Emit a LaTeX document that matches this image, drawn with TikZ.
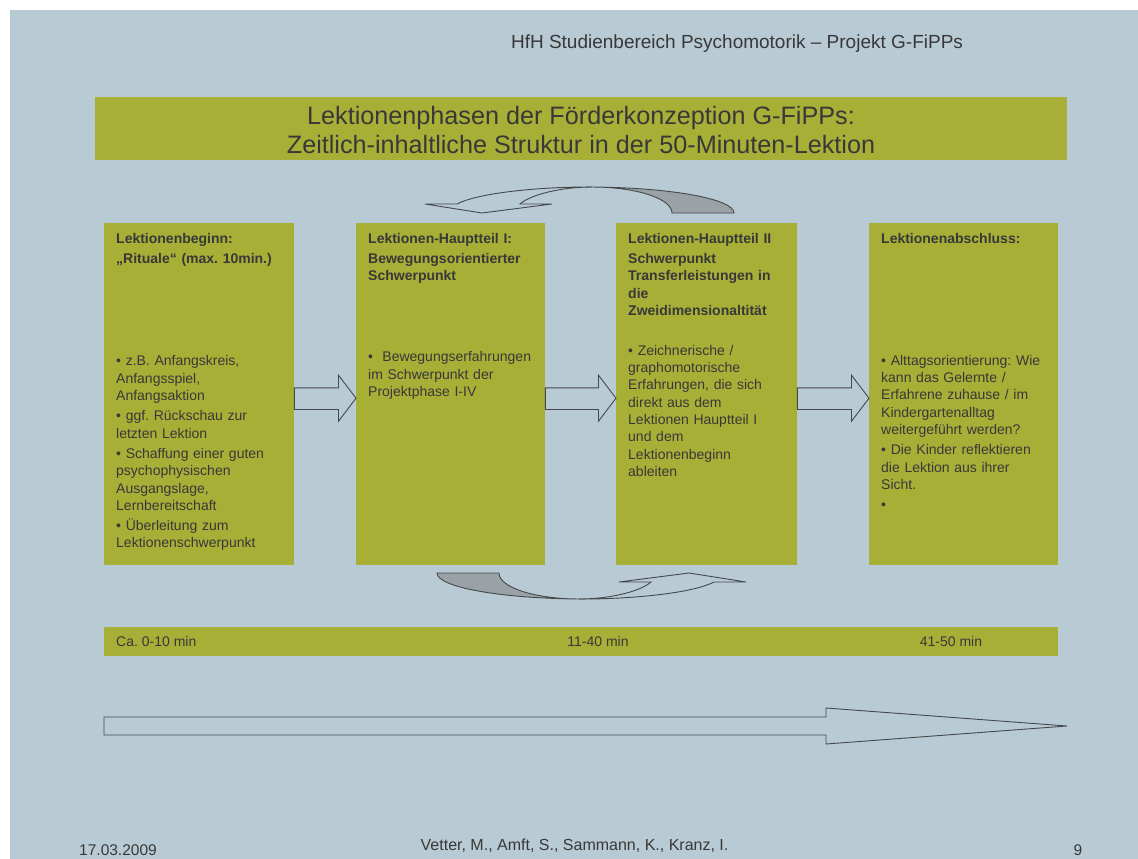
\documentclass[tikz,border=0pt]{standalone}
\usepackage{fontspec}
\setmainfont{Liberation Sans}
\usetikzlibrary{calc}
\frenchspacing
\definecolor{bg}{HTML}{B8CAD3}
\definecolor{grn}{HTML}{A8AF37}
\definecolor{txt}{HTML}{383838}
\definecolor{ol}{HTML}{45494C}
\definecolor{shade}{HTML}{9AA2A7}
\newcommand\blockarrow[2]{%
  \draw[outl, fill=bg] let \p1=(#1.east), \p2=(#2.west) in
   (\x1,\y1+6.3pt) -- (\x2-17.5pt,\y1+6.3pt) -- (\x2-17.5pt,\y1+19pt) -- (\x2,\y1-4pt)
   -- (\x2-17.5pt,\y1-27pt) -- (\x2-17.5pt,\y1-15.3pt) -- (\x1,\y1-15.3pt) -- cycle;}
\newcommand\curvedband{%
  \filldraw[outl, fill=shade] (672,213) -- (734,213) .. controls (734,198.6) and (667.7,187) .. (586,187)
     -- (592,187) .. controls (636.2,187) and (672,198.6) .. (672,213) -- cycle;
  \draw[outl] (586,187) .. controls (545,187) and (480,192) .. (457,204) -- (425,204) -- (482,213)
     -- (552,204) -- (520,204) .. controls (530,195) and (560,187) .. (592,187);}
\begin{document}
\begin{tikzpicture}[x=1pt,y=-1pt,
  panel/.style={fill=grn, draw=none, inner sep=0pt, anchor=north west},
  hd/.style={anchor=north west, inner sep=0pt, align=left, text=txt, text width=185pt,
     font=\fontsize{14}{17.3}\selectfont\bfseries},
  bd/.style={anchor=north west, inner sep=0pt, align=left, text=txt, text width=185pt,
     font=\fontsize{14}{17.3}\selectfont},
  outl/.style={draw=ol, line width=0.9pt, line join=miter},
  small/.style={inner sep=0pt, text=txt, font=\fontsize{14}{17}\selectfont},
  ]
\useasboundingbox (0,0) rectangle (1138,859);
\fill[white] (0,0) rectangle (1138,859);
\fill[bg] (10,10) rectangle (1138,859);

% header and title
\node[inner sep=0pt, anchor=base, text=txt, font=\fontsize{19}{22}\selectfont] (head) at (737,48.8)
  {HfH Studienbereich Psychomotorik – Projekt G-FiPPs};
\node[panel, minimum width=972pt, minimum height=63pt] (titlebox) at (95,97) {};
\node[inner sep=0pt, anchor=north, align=center, text=txt, font=\fontsize{25.2}{29}\selectfont] (title)
  at (581,103.7) {\strut Lektionenphasen der Förderkonzeption G-FiPPs:\\ Zeitlich-inhaltliche Struktur in der 50-Minuten-Lektion};

% panels
\node[panel, minimum width=190pt, minimum height=342pt] (b1) at (104,223) {};
\node[panel, minimum width=189pt, minimum height=342pt] (b2) at (356,223) {};
\node[panel, minimum width=181pt, minimum height=342pt] (b3) at (616,223) {};
\node[panel, minimum width=189pt, minimum height=342pt] (b4) at (869,223) {};

\node[hd] (h1) at (116,231.4) {\strut Lektionenbeginn:\\[2.5pt] „Rituale“ (max. 10min.)};
\node[hd] (h2) at (368,231.4) {\strut Lektionen-Hauptteil I:\\[2.5pt] Bewegungsorientierter\\ Schwerpunkt};
\node[hd] (h3) at (628,231.4) {\strut Lektionen-Hauptteil II\\[2.5pt] Schwerpunkt\\ Transferleistungen in\\ die\\ Zweidimensionaltität};
\node[hd] (h4) at (881,231.4) {\strut Lektionenabschluss:};

\node[bd] (t1) at (116,353.6) {\strut • z.B. Anfangskreis,\\ Anfangsspiel,\\ Anfangsaktion\\[3pt]
  • ggf. Rückschau zur\\ letzten Lektion\\[3pt]
  • Schaffung einer guten\\ psychophysischen\\ Ausgangslage,\\ Lernbereitschaft\\[3pt]
  • Überleitung zum\\ Lektionenschwerpunkt};
\node[bd] (t2) at (368,349.6) {\strut •\ \ Bewegungserfahrungen\\ im Schwerpunkt der\\ Projektphase I-IV};
\node[bd] (t3) at (628,342.9) {\strut • Zeichnerische /\\ graphomotorische\\ Erfahrungen, die sich\\ direkt aus dem\\ Lektionen Hauptteil I\\ und dem\\ Lektionenbeginn\\ ableiten};
\node[bd] (t4) at (881,352.9) {\strut • Alttagsorientierung: Wie\\ kann das Gelernte /\\ Erfahrene zuhause / im\\ Kindergartenalltag\\ weitergeführt werden?\\[3pt]
  • Die Kinder reflektieren\\ die Lektion aus ihrer\\ Sicht.\\[3pt] •};

% block arrows between panels
\blockarrow{b1}{b2}
\blockarrow{b2}{b3}
\blockarrow{b3}{b4}

% curved arrows
\curvedband
\begin{scope}[rotate around={180:(585.5,393)}]
  \curvedband
\end{scope}

% time bar
\node[panel, minimum width=954pt, minimum height=29pt] (timebar) at (104,627) {};
\node[small, anchor=base west] (tA) at (116,646) {Ca. 0-10 min};
\node[small, anchor=base] (tB) at (598,646) {11-40 min};
\node[small, anchor=base] (tC) at (951,646) {41-50 min};

% long arrow
\coordinate (la) at (104,726);
\coordinate (lb) at (1067,726);
\draw[outl, fill=bg] (104,717) -- (826,717) -- (826,708) -- (lb) -- (826,744) -- (826,735) -- (104,735) -- cycle;

% footer
\node[inner sep=0pt, anchor=base, text=txt, font=\fontsize{15.5}{18}\selectfont] (date) at (118,855.5) {17.03.2009};
\node[inner sep=0pt, anchor=base, text=txt, font=\fontsize{16}{18}\selectfont] (auth) at (574.5,850.5) {Vetter, M., Amft, S., Sammann, K., Kranz, I.};
\node[inner sep=0pt, anchor=base, text=txt, font=\fontsize{15.5}{18}\selectfont] (page) at (1078,855.5) {9};
\end{tikzpicture}
\end{document}
